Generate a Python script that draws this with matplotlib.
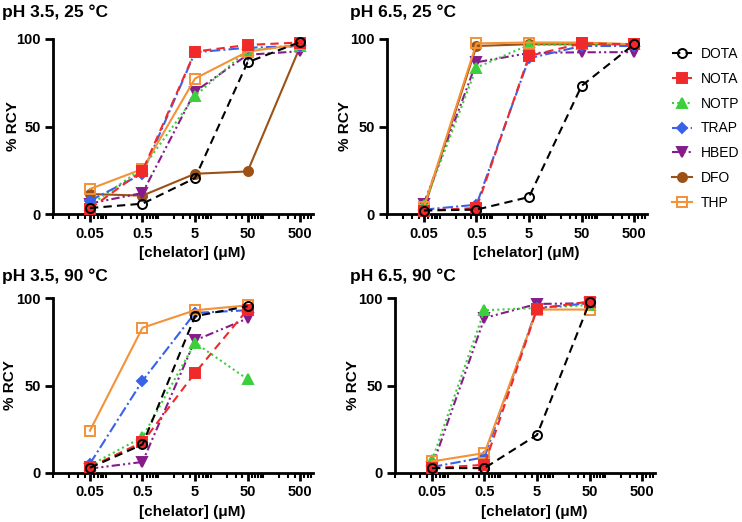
import matplotlib
matplotlib.use("Agg")
import matplotlib.pyplot as plt
from matplotlib.ticker import LogLocator, FixedLocator, NullFormatter

plt.rcParams['font.family'] = ['Liberation Sans', 'DejaVu Sans']

# concentrations (uM)
conc = [0.05, 0.5, 5, 50, 500]
conc_90 = [0.05, 0.5, 5, 50]

chelators = ['DOTA', 'NOTA', 'NOTP', 'TRAP', 'HBED', 'DFO', 'THP']

# %RCY
rcy_35_25 = {
    'DOTA': [3.4, 5.9, 20.5, 86.7, 98.3],
    'NOTA': [3.0, 24.7, 92.8, 96.6, 98.0],
    'NOTP': [5.0, 26.0, 67.5, 93.7, 96.0],
    'TRAP': [7.6, 23.0, 92.4, 95.0, 96.0],
    'HBED': [6.0, 12.0, 70.0, 91.0, 93.0],
    'DFO':  [11.4, 10.5, 23.0, 24.3, 95.6],
    'THP':  [14.3, 25.7, 77.4, 92.8, 97.0],
}
rcy_65_25 = {
    'DOTA': [2.0, 2.5, 9.7, 73.2, 97.0],
    'NOTA': [2.0, 3.4, 90.3, 97.5, 97.0],
    'NOTP': [5.0, 83.7, 96.6, 97.0, 97.0],
    'TRAP': [2.5, 5.3, 89.0, 96.0, 96.0],
    'HBED': [6.0, 86.7, 92.0, 92.4, 92.5],
    'DFO':  [3.0, 96.0, 97.0, 97.0, 97.0],
    'THP':  [4.0, 97.5, 98.0, 98.0, 97.0],
}
rcy_35_90 = {
    'DOTA': [3.0, 16.3, 89.6, 95.3],
    'NOTA': [3.4, 17.6, 57.2, 93.4],
    'NOTP': [4.4, 20.5, 74.4, 53.6],
    'TRAP': [5.3, 52.7, 91.5, 93.0],
    'HBED': [2.5, 6.3, 75.8, 88.3],
    'THP':  [24.2, 83.0, 93.0, 95.8],
}
rcy_65_90 = {
    'DOTA': [2.8, 2.8, 21.8, 97.5],
    'NOTA': [2.8, 4.7, 93.8, 98.0],
    'NOTP': [7.2, 93.0, 94.3, 96.0],
    'TRAP': [3.4, 9.0, 94.3, 97.0],
    'HBED': [3.4, 88.6, 96.6, 97.0],
    'THP':  [6.6, 11.4, 93.4, 93.4],
}

styles = {
    'DOTA': dict(color='black', ls=(0, (4, 2.5)), marker='o', mfc='none', zorder=9),
    'NOTA': dict(color='#f02a2a', ls=(0, (4, 2.5)), marker='s', mfc='#f02a2a', zorder=8),
    'NOTP': dict(color='#3ccf3c', ls=(0, (1, 1.5)), marker='^', mfc='#3ccf3c', zorder=5),
    'TRAP': dict(color='#3a62e8', ls=(0, (5, 1.5, 1, 1.5)), marker='D', mfc='#3a62e8', zorder=6),
    'HBED': dict(color='#861b8c', ls=(0, (4, 1.5, 1, 1.5, 1, 1.5)), marker='v', mfc='#861b8c', zorder=4),
    'DFO':  dict(color='#9c5216', ls='-', marker='o', mfc='#9c5216', zorder=3),
    'THP':  dict(color='#f39237', ls='-', marker='s', mfc='none', zorder=7),
}

# title, x values, data, axes left/top (px), title pos (px), ylabel x (px)
panels = [
    ('pH 3.5, 25 °C', conc, rcy_35_25, (53, 39), (2, 12), 13),
    ('pH 6.5, 25 °C', conc, rcy_65_25, (387, 39), (350, 12), 345),
    ('pH 3.5, 90 °C', conc_90, rcy_35_90, (53, 298), (2, 276), 10),
    ('pH 6.5, 90 °C', conc_90, rcy_65_90, (395, 298), (350, 276), 353),
]

W, H = 742, 522
AW, AH = 260, 175
fig = plt.figure(figsize=(W / 100, H / 100), dpi=100)

handles = {}
for title, xs, data, (left, top), (tx, ty), ylx in panels:
    ax = fig.add_axes([left / W, 1 - (top + AH) / H, AW / W, AH / H])
    for name in chelators:
        if name not in data:
            continue
        st = dict(styles[name])
        z = st.pop('zorder')
        mk = 5 if st['marker'] == 'D' else 6.5
        ln, = ax.plot(xs, data[name], lw=1.5, markersize=mk, mew=1.4,
                      mec=st['color'], clip_on=False, zorder=z, label=name, **st)
        handles[name] = ln
    ax.set_xscale('log')
    ax.set_xlim(0.0099, 880)
    ax.set_ylim(0, 100)
    ax.xaxis.set_major_locator(FixedLocator(conc))
    ax.set_xticklabels(['0.05', '0.5', '5', '50', '500'])
    ax.xaxis.set_minor_locator(LogLocator(base=10, subs=[0.2, 0.3, 0.4, 0.6, 0.7, 0.8, 0.9, 1.0], numticks=20))
    ax.xaxis.set_minor_formatter(NullFormatter())
    ax.set_yticks([0, 50, 100])
    for s in ['top', 'right']:
        ax.spines[s].set_visible(False)
    for s in ['left', 'bottom']:
        ax.spines[s].set_linewidth(2.0)
    ax.tick_params(axis='both', which='major', width=2.0, length=6, labelsize=10.5, pad=3)
    ax.tick_params(axis='x', which='minor', width=1.5, length=3.5)
    for lab in ax.get_xticklabels() + ax.get_yticklabels():
        lab.set_fontweight('bold')
    ax.set_xlabel('[chelator] (μM)', fontsize=11, fontweight='bold')
    ax.xaxis.set_label_coords((192 - 53) / AW, -(253 - 214) / AH)
    ax.set_ylabel('% RCY', fontsize=11, fontweight='bold')
    ax.yaxis.set_label_coords((ylx - left) / AW, 0.5)
    ax.xaxis.label.set_va('center')
    ax.yaxis.label.set_va('center')
    fig.text(tx / W, 1 - ty / H, title, fontsize=12.5, fontweight='bold',
             ha='left', va='center')

fig.legend([handles[n] for n in chelators], chelators, loc='upper left',
           bbox_to_anchor=(672 / W, 1 - 47 / H), frameon=False, fontsize=10,
           handlelength=1.45, labelspacing=0.78, handletextpad=0.6,
           borderpad=0, borderaxespad=0)

fig.savefig('out.png', dpi=100)
